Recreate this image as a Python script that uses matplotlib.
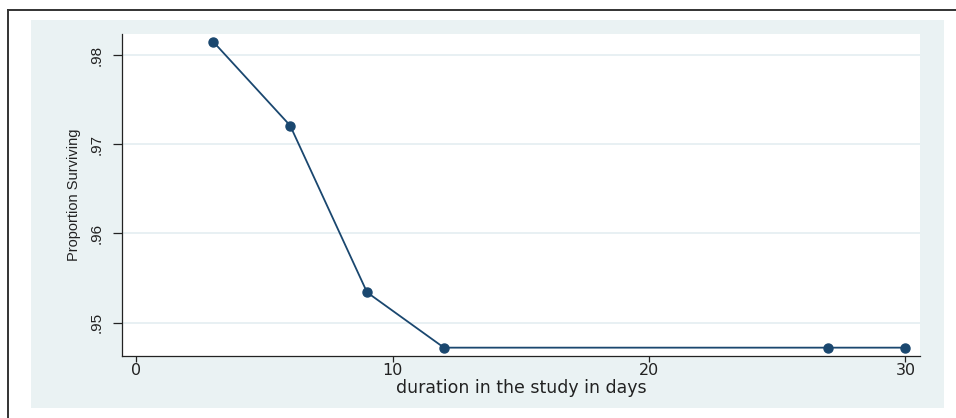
import matplotlib
matplotlib.use("Agg")
import matplotlib.pyplot as plt
from matplotlib.patches import Rectangle
from matplotlib.lines import Line2D

# Data
days = [3, 6, 9, 12, 27, 30]
surviving = [0.9815, 0.9721, 0.9534, 0.9472, 0.9472, 0.9472]
x_ticks = [0, 10, 20, 30]
x_ticklabels = ["0", "10", "20", "30"]
y_ticks = [0.95, 0.96, 0.97, 0.98]
y_ticklabels = [".95", ".96", ".97", ".98"]
x_label = "duration in the study in days"
y_label = "Proportion Surviving"

W, H = 956, 418
fig = plt.figure(figsize=(W / 100, H / 100), dpi=100)
fig.patch.set_facecolor("white")

def fx(px):
    return px / W

def fy(py):
    return 1 - py / H

# Outer border lines (top and left)
fig.add_artist(Line2D([fx(8), 1.0], [fy(10), fy(10)], transform=fig.transFigure,
                      color="#333333", lw=1.4, zorder=-2))
fig.add_artist(Line2D([fx(8), fx(8)], [fy(10), 0.0], transform=fig.transFigure,
                      color="#333333", lw=1.4, zorder=-2))

# Graph region background
fig.add_artist(Rectangle((fx(31), fy(408)), fx(944) - fx(31), fy(20) - fy(408),
                         transform=fig.transFigure, facecolor="#EAF2F3",
                         edgecolor="none", zorder=-1))

ax = fig.add_axes([fx(122), fy(355.5), fx(920) - fx(122), fy(34) - fy(355.5)])
ax.set_facecolor("white")

ax.plot(days, surviving, color="#1A476F", lw=1.3, marker="o", ms=6.5,
        markeredgecolor="#1A476F", markerfacecolor="#1A476F", zorder=3)

ax.set_xlim(-0.56, 30.57)
ax.set_ylim(0.94632, 0.98237)

ax.set_xticks(x_ticks)
ax.set_xticklabels(x_ticklabels, fontsize=11.5, family="DejaVu Sans", color="#222222")
ax.set_yticks(y_ticks)
ax.set_yticklabels(y_ticklabels, rotation=90, va="center", fontsize=11,
                   family="Liberation Sans", color="#222222")

ax.yaxis.grid(True, color="#E6EFF2", lw=1.3)
ax.xaxis.grid(False)
ax.set_axisbelow(True)

for s in ["top", "right"]:
    ax.spines[s].set_visible(False)
for s in ["left", "bottom"]:
    ax.spines[s].set_color("#222222")
    ax.spines[s].set_linewidth(0.9)

ax.tick_params(axis="y", direction="out", length=6.5, width=0.9, color="#222222", pad=7)
ax.tick_params(axis="x", direction="out", length=4, width=0.9, color="#222222", pad=1.5)

ax.set_xlabel(x_label, fontsize=12.5, family="DejaVu Sans", color="#222222", labelpad=0.5)
ax.set_ylabel(y_label, fontsize=10.5, family="Liberation Sans",
              color="#222222", labelpad=6)

fig.savefig("out.png", dpi=100)
